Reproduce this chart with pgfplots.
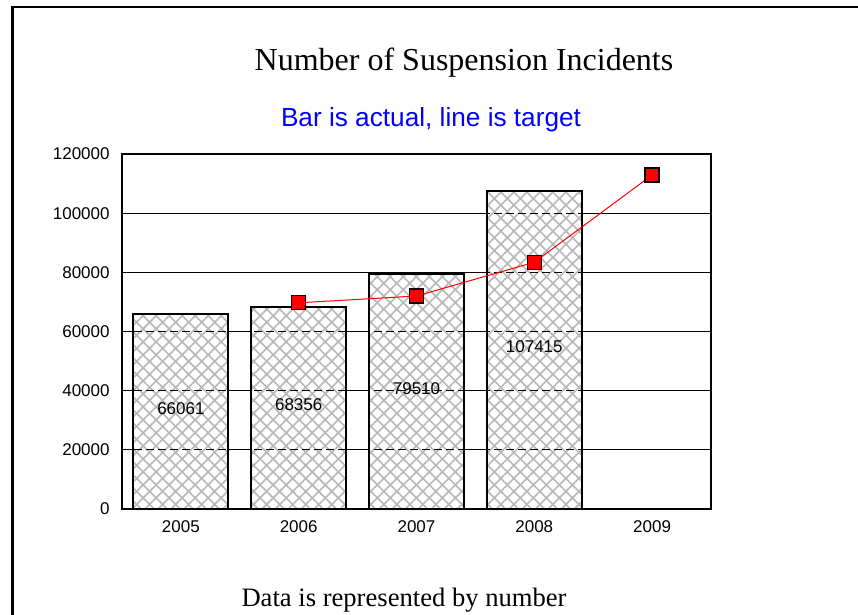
\documentclass[border=0pt]{standalone}
\usepackage{pgfplots}
\pgfplotsset{compat=1.18}
\usepackage{fontspec}
\setmainfont{Liberation Serif}
\setsansfont{Liberation Sans}
\usetikzlibrary{patterns.meta}

\begin{document}
\begin{tikzpicture}
% frame and texts, in pixel units of the reference
\begin{scope}[x=0.5pt,y=-0.5pt]
\useasboundingbox (0,0) rectangle (858,615);
\draw[line width=1.3pt] (12.5,615) -- (12.5,7) -- (858,7);
\node[anchor=base, inner sep=0pt, font=\fontsize{16}{18}\selectfont] at (464,71) {Number of Suspension Incidents};
\node[anchor=base, inner sep=0pt, font=\sffamily\fontsize{13.1}{15}\selectfont, text=blue] at (431,126.7) {Bar is actual, line is target};
\node[anchor=base, inner sep=0pt, font=\fontsize{13.3}{15}\selectfont] at (404,606.7) {Data is represented by number};
\end{scope}

\begin{axis}[
    at={(61pt,-254.5pt)}, anchor=south west,
    width=294.5pt, height=177.5pt, scale only axis,
    xmin=-0.5, xmax=4.5,
    ymin=0, ymax=120000,
    xtick={0,1,2,3,4},
    xticklabels={2005,2006,2007,2008,2009},
    ytick={0,20000,40000,60000,80000,100000,120000},
    scaled y ticks=false,
    yticklabel style={/pgf/number format/fixed, /pgf/number format/1000 sep={}, inner sep=0pt, xshift=-6pt},
    xticklabel style={inner sep=0pt, yshift=-5.75pt},
    /pgf/number format/assume math mode=true,
    ticklabel style={font=\sffamily\fontsize{8.5}{10}\selectfont},
    major tick length=0pt,
    ymajorgrids,
    grid style={black, line width=0.65pt},
    axis line style={line width=1pt},
]
% actual
\addplot[ybar, bar width=47.5pt, draw=black, line width=1pt, fill=white,
    postaction={pattern={Hatch[angle=45, distance=4.6pt, line width=0.8pt]}, pattern color=black!28}]
    coordinates {(0,66061) (1,68356) (2,79510) (3,107415)};
% grid seen through the bars
\pgfplotsinvokeforeach{20000,40000,60000,80000,100000}{
  \draw[black, line width=0.65pt, dash pattern=on 4pt off 2pt] (axis cs:-0.5,#1) -- (axis cs:4.5,#1);
}
% value labels, at half height of the bars
\addplot[draw=none, mark=none, nodes near coords, point meta=explicit symbolic,
    every node near coord/.append style={anchor=center, yshift=1.5pt, font=\sffamily\fontsize{8.5}{10}\selectfont}]
    coordinates {(0,33030)[66061] (1,34178)[68356] (2,39755)[79510] (3,53707)[107415]};
% target
\addplot[red, line width=0.5pt, mark=square*, mark size=3.5pt,
    mark options={fill=red, draw=black, line width=0.6pt, solid}]
    coordinates {(1,69700) (2,72000) (3,83400) (4,112900)};
\end{axis}
\end{tikzpicture}
\end{document}
